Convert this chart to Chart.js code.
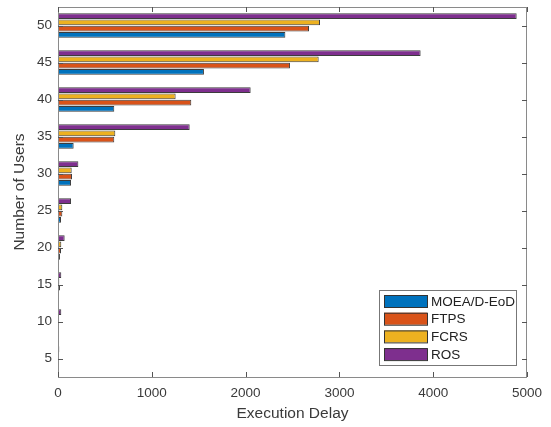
<!DOCTYPE html>
<html>
<head>
<meta charset="utf-8">
<script src="https://cdn.jsdelivr.net/npm/chart.js@4/dist/chart.umd.min.js"></script>
<style>
  html, body { margin: 0; padding: 0; background: #fff; }
  #wrap { width: 551px; height: 427px; position: relative; }
</style>
</head>
<body>
<div id="wrap"><canvas id="c" width="551" height="427"></canvas></div>
<script>
// ── Data ────────────────────────────────────────────────────────────────────
const users   = ['50', '45', '40', '35', '30', '25', '20', '15', '10', '5'];
const moeaEoD = [2424, 1556, 600, 167, 139, 32, 21, 5, 2, 1];
const ftps    = [2676, 2473, 1421, 600, 149, 46, 32, 21, 2, 1];
const fcrs    = [2793, 2779, 1254, 611, 146, 46, 35, 14, 2, 1];
const ros     = [4890, 3866, 2054, 1404, 217, 139, 71, 35, 35, 14];
const xTicks  = [0, 1000, 2000, 3000, 4000, 5000];

const SERIES = [
  { label: 'MOEA/D-EoD', data: moeaEoD, color: '#0072BD' },
  { label: 'FTPS',       data: ftps,    color: '#D95319' },
  { label: 'FCRS',       data: fcrs,    color: '#EDB120' },
  { label: 'ROS',        data: ros,     color: '#7E2F8E' },
];

const FONT = '"Liberation Sans", Arial, sans-serif';
const AXIS = '#8a8a8a';
const TEXT = '#3a3a3a';

// ── Box, inward ticks, legend (MATLAB look) ────────────────────────────────
const matlabBox = {
  id: 'matlabBox',
  afterDraw(chart) {
    const { ctx, chartArea: a, scales } = chart;
    ctx.save();
    ctx.strokeStyle = AXIS;
    ctx.lineWidth = 1;
    ctx.strokeRect(a.left + 0.5, a.top + 0.5, a.right - a.left - 1, a.bottom - a.top);

    ctx.strokeStyle = '#555';
    ctx.beginPath();
    xTicks.forEach(v => {
      const x = Math.round(scales.x.getPixelForValue(v)) + 0.5;
      ctx.moveTo(x, a.bottom); ctx.lineTo(x, a.bottom - 5);
      ctx.moveTo(x, a.top);    ctx.lineTo(x, a.top + 5);
    });
    users.forEach((u, i) => {
      const y = Math.round(scales.y.getPixelForValue(i)) + 0.5;
      ctx.moveTo(a.left, y);  ctx.lineTo(a.left + 5, y);
      ctx.moveTo(a.right, y); ctx.lineTo(a.right - 5, y);
    });
    ctx.stroke();

    // legend box
    const lx = 379, ly = 290, lw = 137, lh = 75;
    ctx.fillStyle = '#fff';
    ctx.fillRect(lx, ly, lw, lh);
    ctx.strokeStyle = '#777';
    ctx.strokeRect(lx + 0.5, ly + 0.5, lw, lh);
    ctx.font = '13.5px ' + FONT;
    ctx.textBaseline = 'middle';
    SERIES.forEach((s, i) => {
      const cy = ly + 11 + i * 17.7;
      ctx.fillStyle = s.color;
      ctx.fillRect(384, cy - 6, 43, 12);
      ctx.strokeStyle = '#333';
      ctx.strokeRect(384.5, cy - 5.5, 43, 12);
      ctx.fillStyle = '#222';
      ctx.fillText(s.label, 431, cy + 1);
    });
    ctx.restore();
  }
};

// ROS drawn on top of each group, MOEA/D-EoD at the bottom
const datasets = SERIES.slice().reverse().map(s => ({
  label: s.label,
  data: s.data,
  backgroundColor: s.color,
  borderColor: '#3c3c3c',
  borderWidth: 1,
  borderSkipped: false,
  categoryPercentage: 0.68,
  barPercentage: 0.92,
}));

new Chart(document.getElementById('c').getContext('2d'), {
  type: 'bar',
  data: { labels: users, datasets },
  plugins: [matlabBox],
  options: {
    indexAxis: 'y',
    responsive: false,
    animation: false,
    layout: { padding: { top: 7, right: 24, bottom: 0, left: 0 } },
    plugins: { legend: { display: false }, tooltip: { enabled: false } },
    scales: {
      x: {
        min: 0, max: 5000,
        afterBuildTicks: s => { s.ticks = xTicks.map(v => ({ value: v })); },
        afterFit: s => { s.height = 50; s.paddingLeft = 0; s.paddingRight = 0; },
        grid: { display: false, drawTicks: false },
        border: { display: false },
        ticks: { color: TEXT, font: { family: FONT, size: 13.5 }, padding: 8, maxRotation: 0,
                 callback: v => String(v) },
        title: { display: true, text: 'Execution Delay', color: TEXT,
                 font: { family: FONT, size: 15.5 }, padding: { top: 2, bottom: 4 } },
      },
      y: {
        afterFit: s => { s.width = 58; s.paddingTop = 0; s.paddingBottom = 0; },
        grid: { display: false, drawTicks: false },
        border: { display: false },
        ticks: { color: TEXT, font: { family: FONT, size: 13.5 }, padding: 6 },
        title: { display: true, text: 'Number of Users', color: TEXT,
                 font: { family: FONT, size: 15.5 }, padding: { top: 10, bottom: 0 } },
      },
    },
  },
});
</script>
</body>
</html>
